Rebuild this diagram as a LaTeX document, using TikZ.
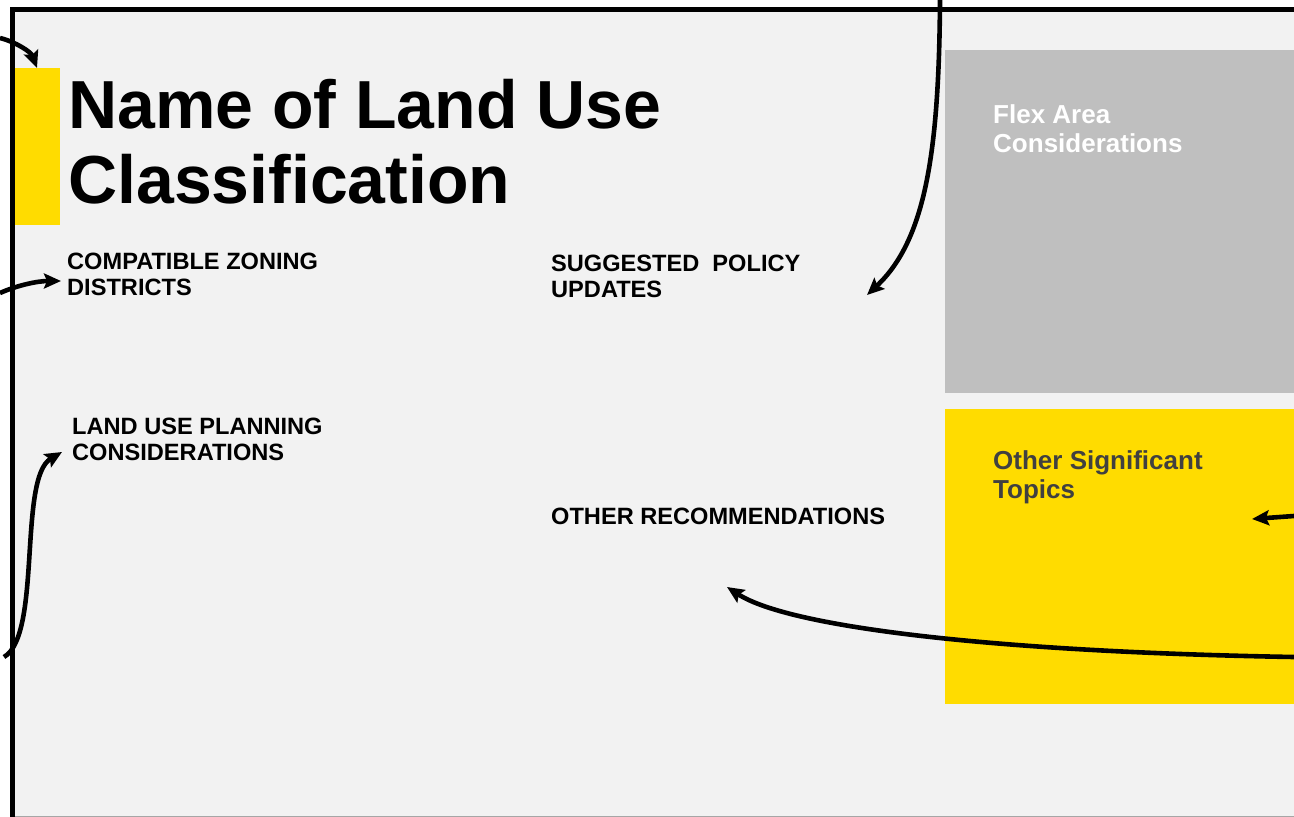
\documentclass[tikz,border=0pt]{standalone}
\usepackage{fontspec}
\setmainfont{Liberation Sans}
\usetikzlibrary{arrows.meta}
\definecolor{slidebg}{HTML}{F2F2F2}
\definecolor{accent}{HTML}{FFDC00}
\definecolor{boxgray}{HTML}{BFBFBF}
\definecolor{darktext}{HTML}{404040}
\tikzset{
  lbl/.style={anchor=base west, inner sep=0pt, align=left, font=\fontsize{23.6}{25.5}\selectfont\bfseries},
  ttl/.style={anchor=base west, inner sep=0pt, align=left, font=\fontsize{68}{75}\selectfont\bfseries},
  boxtxt/.style={anchor=base west, inner sep=0pt, align=left, font=\fontsize{26}{28.5}\selectfont\bfseries},
  conn/.style={line width=4.6pt, -{Stealth[length=17pt,width=15pt,inset=3pt]}},
}
\begin{document}
\begin{tikzpicture}[x=1pt,y=-1pt]
\useasboundingbox (0,0) rectangle (1294,817);
\fill[white] (0,0) rectangle (1294,817);
% slide
\fill[slidebg] (13,10) rectangle (1294,816);
\draw[gray!70, line width=1pt] (13,816.5) -- (1294,816.5);
\draw[black, line width=5.5pt] (12.5,817) -- (12.5,9.5) -- (1294,9.5);
% boxes
\fill[boxgray] (945,50) rectangle (1294,393);
\fill[accent] (945,409) rectangle (1294,704);
\fill[accent] (15,68) rectangle (60,225);
% texts
\node[ttl] (title) at (68,203) {Name of Land Use\\Classification};
\node[lbl] (czd) at (67,295) {COMPATIBLE ZONING\\DISTRICTS};
\node[lbl] (spu) at (551,297) {SUGGESTED\ \ POLICY\\UPDATES};
\node[lbl] (lup) at (72,460) {LAND USE PLANNING\\CONSIDERATIONS};
\node[lbl] (orec) at (551,524) {OTHER RECOMMENDATIONS};
\node[boxtxt, text=white] (flex) at (993,152) {Flex Area\\Considerations};
\node[boxtxt, text=darktext] (ost) at (993,498) {Other Significant\\Topics};
% connector ends
\coordinate (s1) at (0,38);   \coordinate (t1) at (37,68);
\coordinate (s2) at (0,293);  \coordinate (t2) at (61,281);
\coordinate (s3) at (4,657);  \coordinate (t3) at (62,452);
\coordinate (s4) at (940,0);  \coordinate (t4) at (867,295);
\coordinate (s5) at (1294,516); \coordinate (t5) at (1252,519);
\coordinate (s6) at (1294,657); \coordinate (t6) at (727,587);
\draw[conn] (s1) .. controls (16,42) and (31,52) .. (t1);
\draw[conn] (s2) .. controls (18,285) and (38,281) .. (t2);
\draw[conn] (s3) .. controls (42,635) and (18,478) .. (t3);
\draw[conn] (s4) .. controls (939,150) and (926,240) .. (t4);
\draw[conn] (s5) -- (t5);
\draw[conn] (s6) .. controls (1000,652) and (790,628) .. (t6);
\end{tikzpicture}
\end{document}
